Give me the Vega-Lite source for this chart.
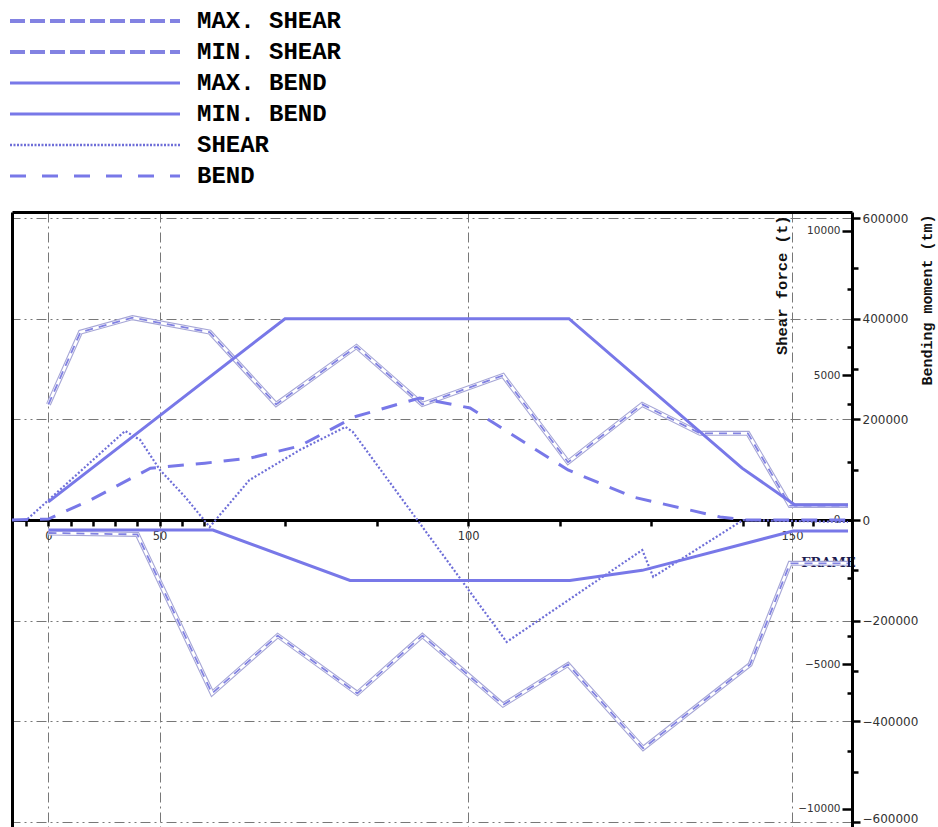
{
  "$schema": "https://vega.github.io/schema/vega-lite/v6.json",
  "width": 840,
  "height": 615,
  "autosize": "none",
  "padding": {"left": 12, "top": 212, "right": 86, "bottom": 0},
  "background": "white",
  "config": {"view": {"stroke": null}},
  "datasets": {
    "d": [
      {"s": "MAX. SHEAR", "f": 0, "v": 4000},
      {"s": "MAX. SHEAR", "f": 14.4, "v": 6500},
      {"s": "MAX. SHEAR", "f": 37.8, "v": 7000},
      {"s": "MAX. SHEAR", "f": 70.7, "v": 6500},
      {"s": "MAX. SHEAR", "f": 78.9, "v": 4000},
      {"s": "MAX. SHEAR", "f": 87.8, "v": 6000},
      {"s": "MAX. SHEAR", "f": 95, "v": 4000},
      {"s": "MAX. SHEAR", "f": 103.8, "v": 5000},
      {"s": "MAX. SHEAR", "f": 110.9, "v": 2000},
      {"s": "MAX. SHEAR", "f": 119, "v": 4000},
      {"s": "MAX. SHEAR", "f": 125.3, "v": 3000},
      {"s": "MAX. SHEAR", "f": 132, "v": 3000},
      {"s": "MAX. SHEAR", "f": 149.2, "v": 500},
      {"s": "MAX. SHEAR", "f": 176.7, "v": 500},
      {"s": "MIN. SHEAR", "f": 0, "v": -450},
      {"s": "MIN. SHEAR", "f": 40, "v": -500},
      {"s": "MIN. SHEAR", "f": 71, "v": -6000},
      {"s": "MIN. SHEAR", "f": 79.1, "v": -4000},
      {"s": "MIN. SHEAR", "f": 87.9, "v": -6000},
      {"s": "MIN. SHEAR", "f": 95, "v": -4000},
      {"s": "MIN. SHEAR", "f": 103.8, "v": -6400},
      {"s": "MIN. SHEAR", "f": 110.9, "v": -5000},
      {"s": "MIN. SHEAR", "f": 119.1, "v": -7900},
      {"s": "MIN. SHEAR", "f": 132.9, "v": -5000},
      {"s": "MIN. SHEAR", "f": 149.2, "v": -1500},
      {"s": "MIN. SHEAR", "f": 176.7, "v": -1500},
      {"s": "MAX. BEND", "f": 0, "v": 36000},
      {"s": "MAX. BEND", "f": 80, "v": 400000},
      {"s": "MAX. BEND", "f": 111, "v": 400000},
      {"s": "MAX. BEND", "f": 129.9, "v": 103000},
      {"s": "MAX. BEND", "f": 151.4, "v": 30000},
      {"s": "MAX. BEND", "f": 176.7, "v": 30000},
      {"s": "MIN. BEND", "f": 0, "v": -20000},
      {"s": "MIN. BEND", "f": 71.1, "v": -20000},
      {"s": "MIN. BEND", "f": 87.1, "v": -120000},
      {"s": "MIN. BEND", "f": 111.1, "v": -120000},
      {"s": "MIN. BEND", "f": 119, "v": -100000},
      {"s": "MIN. BEND", "f": 150.5, "v": -22000},
      {"s": "MIN. BEND", "f": 176.7, "v": -22000},
      {"s": "SHEAR", "f": -16.4, "v": 0},
      {"s": "SHEAR", "f": -9.9, "v": 0},
      {"s": "SHEAR", "f": 34.5, "v": 3080},
      {"s": "SHEAR", "f": 41.3, "v": 2770},
      {"s": "SHEAR", "f": 50.2, "v": 1730},
      {"s": "SHEAR", "f": 61.5, "v": 800},
      {"s": "SHEAR", "f": 70.7, "v": -240},
      {"s": "SHEAR", "f": 75.6, "v": 1380},
      {"s": "SHEAR", "f": 81.6, "v": 2420},
      {"s": "SHEAR", "f": 86.6, "v": 3220},
      {"s": "SHEAR", "f": 87.4, "v": 3050},
      {"s": "SHEAR", "f": 104.2, "v": -4220},
      {"s": "SHEAR", "f": 119, "v": -1040},
      {"s": "SHEAR", "f": 120.2, "v": -1970},
      {"s": "SHEAR", "f": 130, "v": 0},
      {"s": "SHEAR", "f": 176.7, "v": -70},
      {"s": "BEND", "f": -16.4, "v": 0},
      {"s": "BEND", "f": 0, "v": 2000},
      {"s": "BEND", "f": 18.9, "v": 39800},
      {"s": "BEND", "f": 45.9, "v": 103000},
      {"s": "BEND", "f": 70.1, "v": 113000},
      {"s": "BEND", "f": 75.7, "v": 123000},
      {"s": "BEND", "f": 81.6, "v": 147000},
      {"s": "BEND", "f": 87.6, "v": 205000},
      {"s": "BEND", "f": 94.7, "v": 242500},
      {"s": "BEND", "f": 100.2, "v": 222600},
      {"s": "BEND", "f": 110.9, "v": 99400},
      {"s": "BEND", "f": 118, "v": 45700},
      {"s": "BEND", "f": 127.5, "v": 6000},
      {"s": "BEND", "f": 130.8, "v": 0},
      {"s": "BEND", "f": 176.7, "v": 0}
    ]
  },
  "data": {"name": "d"},
  "resolve": {"scale": {"y": "independent"}, "axis": {"x": "independent", "y": "independent"}},
  "layer": [
    {
      "encoding": {
        "x": {
          "field": "f", "type": "quantitative",
          "scale": {"domain": [-16.4, 70, 80, 130, 150, 178.6], "range": [0, 192, 273, 731, 780, 840], "nice": false, "zero": false},
          "axis": {
            "orient": "bottom", "offset": -307,
            "values": [-10, 0, 10, 20, 30, 40, 50, 60, 70, 80, 90, 100, 110, 120, 130, 140, 150, 160],
            "labelExpr": "datum.value % 50 === 0 ? datum.label : ''",
            "labelFont": "DejaVu Sans", "labelFontSize": 11.5, "labelColor": "#333", "labelPadding": 4,
            "labelOverlap": false, "labelFlush": false,
            "tickSize": 6, "tickWidth": 2.5, "tickColor": "black",
            "domainColor": "black", "domainWidth": 3,
            "grid": true, "gridColor": "#777", "gridDash": [10, 4, 2, 4], "gridWidth": 1,
            "gridOpacity": {"condition": {"test": "datum.value % 50 === 0", "value": 1}, "value": 0},
            "title": "FRAME", "titleFont": "DejaVu Serif", "titleFontWeight": "bold", "titleFontSize": 13,
            "titleColor": "#1c1c50", "titleX": 816, "titleY": 42, "titleAlign": "center", "titleBaseline": "middle"
          }
        },
        "y": {
          "field": "v", "type": "quantitative",
          "scale": {"domain": [-10623, 10657], "nice": false, "zero": false},
          "axis": {
            "orient": "left", "offset": -840,
            "values": [-10000, -8000, -6000, -5000, -4000, -2000, 0, 2000, 4000, 5000, 6000, 8000, 10000],
            "format": "d",
            "labelExpr": "datum.value % 5000 === 0 ? datum.label : ''",
            "labelFont": "DejaVu Sans", "labelFontSize": 10.5, "labelColor": "#333", "labelPadding": 2,
            "tickSize": {"condition": {"test": "datum.value % 5000 === 0", "value": 10}, "value": 5},
            "tickWidth": 2.5, "tickColor": "black",
            "domain": false, "grid": false,
            "title": "Shear force (t)", "titleFont": "Liberation Mono", "titleFontWeight": "bold", "titleFontSize": 15.5,
            "titleColor": "#111", "titleAngle": 270, "titleX": -71, "titleY": 3, "titleAlign": "right", "titleBaseline": "middle"
          }
        }
      },
      "layer": [
        {
          "transform": [{"filter": "datum.s === 'MAX. SHEAR' || datum.s === 'MIN. SHEAR'"}],
          "mark": {"type": "line", "stroke": "#a6a6d6", "strokeWidth": 5},
          "encoding": {"detail": {"field": "s", "type": "nominal"}}
        },
        {
          "transform": [{"filter": "datum.s === 'MAX. SHEAR' || datum.s === 'MIN. SHEAR'"}],
          "mark": {"type": "line", "stroke": "white", "strokeWidth": 2.8},
          "encoding": {"detail": {"field": "s", "type": "nominal"}}
        },
        {
          "transform": [{"filter": "datum.s === 'MAX. SHEAR' || datum.s === 'MIN. SHEAR'"}],
          "mark": {"type": "line", "strokeWidth": 1.8, "strokeDash": [8, 6]},
          "encoding": {
            "color": {
              "field": "s", "type": "nominal",
              "scale": {
                "domain": ["MAX. SHEAR", "MIN. SHEAR", "MAX. BEND", "MIN. BEND", "SHEAR", "BEND"],
                "range": ["#8282e2", "#8282e2", "#7878e8", "#7878e8", "#6e6ed8", "#7878e8"]
              },
              "legend": {
                "orient": "none", "legendX": -2, "legendY": -203, "title": null,
                "symbolType": "stroke", "symbolSize": 28900, "symbolStrokeWidth": 3, "symbolOffset": 73,
                "labelFont": "Liberation Mono", "labelFontWeight": "bold", "labelFontSize": 24,
                "labelColor": "black", "labelOffset": 90, "rowPadding": 7, "padding": 0,
                "encode": {
                  "symbols": {
                    "update": {
                      "strokeDash": {"signal": "(datum.value === 'MAX. SHEAR' || datum.value === 'MIN. SHEAR') ? [15, 5] : datum.value === 'SHEAR' ? [2, 1.5] : datum.value === 'BEND' ? [16, 16] : [1, 0]"},
                      "strokeWidth": {"signal": "(datum.value === 'MAX. SHEAR' || datum.value === 'MIN. SHEAR') ? 4 : datum.value === 'SHEAR' ? 2.5 : 3"}
                    }
                  }
                }
              }
            }
          }
        },
        {
          "transform": [{"filter": "datum.s === 'SHEAR'"}],
          "mark": {"type": "line", "strokeWidth": 2.2, "strokeDash": [2, 2]},
          "encoding": {"color": {"field": "s", "type": "nominal"}}
        }
      ]
    },
    {
      "transform": [{"filter": "datum.s === 'MAX. BEND' || datum.s === 'MIN. BEND'"}],
      "mark": {"type": "line", "strokeWidth": 3},
      "encoding": {
        "x": {
          "field": "f", "type": "quantitative",
          "axis": {"orient": "top", "ticks": false, "labels": false, "grid": false, "title": null, "domainColor": "black", "domainWidth": 3}
        },
        "y": {
          "field": "v", "type": "quantitative",
          "scale": {"domain": [-610000, 612000], "nice": false, "zero": false},
          "axis": {
            "orient": "right",
            "values": [-600000, -500000, -400000, -300000, -200000, -100000, 0, 100000, 200000, 300000, 400000, 500000, 600000],
            "format": "d",
            "labelExpr": "datum.value % 200000 === 0 ? datum.label : ''",
            "labelFont": "DejaVu Sans", "labelFontSize": 12, "labelColor": "#333", "labelPadding": 2,
            "labelOffset": {"condition": {"test": "datum.value === -600000", "value": -3}, "value": 0},
            "tickSize": {"condition": {"test": "datum.value % 200000 === 0", "value": 8}, "value": 6},
            "tickWidth": 2.5, "tickColor": "black",
            "domainColor": "black", "domainWidth": 3,
            "grid": true, "gridColor": "#777", "gridDash": [10, 4, 2, 4, 2, 4], "gridWidth": 1,
            "gridOpacity": {"condition": {"test": "datum.value % 200000 === 0 && datum.value !== 0", "value": 1}, "value": 0},
            "title": "Bending moment (tm)", "titleFont": "Liberation Mono", "titleFontWeight": "bold", "titleFontSize": 15,
            "titleColor": "#111", "titleAngle": 270, "titleX": 74, "titleY": 2, "titleAlign": "right", "titleBaseline": "middle"
          }
        },
        "color": {"field": "s", "type": "nominal"}
      }
    },
    {
      "transform": [{"filter": "datum.s === 'BEND'"}],
      "mark": {"type": "line", "strokeWidth": 3, "strokeDash": [16, 12]},
      "encoding": {
        "x": {"field": "f", "type": "quantitative", "axis": null},
        "y": {
          "field": "v", "type": "quantitative",
          "scale": {"domain": [-610000, 612000], "nice": false, "zero": false},
          "axis": {"orient": "left", "ticks": false, "labels": false, "grid": false, "title": null, "domainColor": "black", "domainWidth": 3}
        },
        "color": {"field": "s", "type": "nominal"}
      }
    }
  ]
}
